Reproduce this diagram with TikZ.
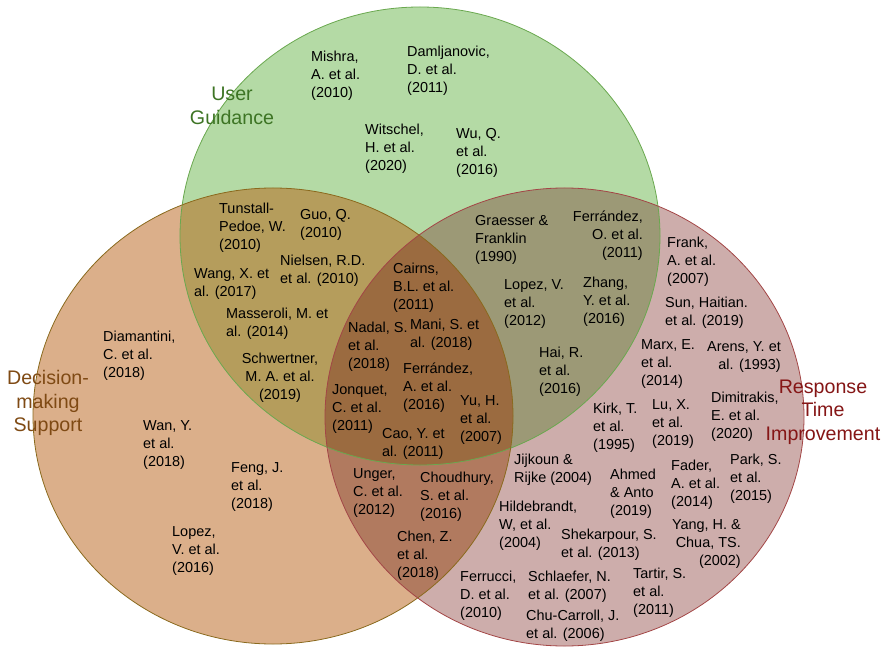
\documentclass[tikz,border=0pt]{standalone}
\usepackage{fontspec}
\setmainfont{Liberation Sans}

\definecolor{ugfill}{HTML}{B4DAA5}
\definecolor{dmfill}{HTML}{DBAF8A}
\definecolor{rtfill}{HTML}{CDADAB}
\definecolor{ugdmfill}{HTML}{B59D5C}
\definecolor{ugrtfill}{HTML}{9C9976}
\definecolor{dmrtfill}{HTML}{B17A5F}
\definecolor{allfill}{HTML}{9B6B40}
\definecolor{ugline}{HTML}{6AA84F}
\definecolor{dmline}{HTML}{8A6A1E}
\definecolor{rtline}{HTML}{A34646}
\definecolor{ugtext}{HTML}{3D7424}
\definecolor{dmtext}{HTML}{7F4A14}
\definecolor{rttext}{HTML}{851616}

\newcommand{\ugpath}{(420,236) ellipse [x radius=240bp, y radius=229bp]}
\newcommand{\dmpath}{(273,416) ellipse [x radius=240bp, y radius=228bp]}
\newcommand{\rtpath}{(564.5,417) ellipse [x radius=239.5bp, y radius=229bp]}

\begin{document}
\begin{tikzpicture}[x=1bp,y=-1bp,
  ref/.style={align=left,anchor=west,inner sep=0pt,font=\fontsize{14.5}{18}\selectfont},
  refr/.style={ref,align=right,anchor=east},
  refc/.style={ref,align=center,anchor=center},
  settitle/.style={align=center,inner sep=0pt,font=\fontsize{19.7}{23.5}\selectfont}]

  \useasboundingbox (0,0) rectangle (887,647);

  % the three sets
  \fill [ugfill] \ugpath;
  \fill [dmfill] \dmpath;
  \fill [rtfill] \rtpath;
  \begin{scope}
    \clip \ugpath;
    \fill [ugdmfill] \dmpath;
    \fill [ugrtfill] \rtpath;
  \end{scope}
  \begin{scope}
    \clip \dmpath;
    \fill [dmrtfill] \rtpath;
    \clip \ugpath;
    \fill [allfill] \rtpath;
  \end{scope}
  \draw [ugline, line width=0.8bp] \ugpath;
  \draw [dmline, line width=0.8bp] \dmpath;
  \draw [rtline, line width=0.8bp] \rtpath;

  \node (ugtitle) at (232,106) [settitle, text=ugtext] {User\\Guidance};
  \node (dmtitle) at (48,403) [settitle, text=dmtext] {Decision-\\making\\Support};
  \node (rttitle) at (823,412) [settitle, text=rttext] {Response\\Time\\Improvement};

  % user guidance only
  \node (mishra) at (311,76) [ref] {Mishra,\\A. et al.\\(2010)};
  \node (damljanovic) at (407,71) [ref] {Damljanovic,\\D. et al.\\(2011)};
  \node (witschel) at (365,149) [ref] {Witschel,\\H. et al.\\(2020)};
  \node (wuq) at (456,153) [ref] {Wu, Q.\\et al.\\(2016)};

  % user guidance and decision-making
  \node (tunstall) at (219,228) [ref] {Tunstall-\\Pedoe, W.\\(2010)};
  \node (guo) at (300,225) [ref] {Guo, Q.\\(2010)};
  \node (nielsen) at (280,271) [ref] {Nielsen, R.D.\\et al. (2010)};
  \node (wangx) at (194,284) [ref] {Wang, X. et\\al. (2017)};
  \node (masseroli) at (226,324) [ref] {Masseroli, M. et\\al. (2014)};
  \node (schwertner) at (280,378) [refc] {Schwertner,\\M. A. et al.\\(2019)};

  % all three
  \node (cairns) at (393,288) [ref] {Cairns,\\B.L. et al.\\(2011)};
  \node (nadal) at (348,347) [ref] {Nadal, S.\\et al.\\(2018)};
  \node (mani) at (410,335) [ref] {Mani, S. et\\al. (2018)};
  \node (ferrandeza) at (403,388) [ref] {Ferrández,\\A. et al.\\(2016)};
  \node (jonquet) at (332,409) [ref] {Jonquet,\\C. et al.\\(2011)};
  \node (yuh) at (460,420) [ref] {Yu, H.\\et al.\\(2007)};
  \node (caoy) at (382,444) [ref] {Cao, Y. et\\al. (2011)};

  % user guidance and response time
  \node (graesser) at (475,240) [ref] {Graesser \&\\Franklin\\(1990)};
  \node (ferrandezo) at (643,236) [refr] {Ferrández,\\O. et al.\\(2011)};
  \node (lopezv) at (504,304) [ref] {Lopez, V.\\et al.\\(2012)};
  \node (zhang) at (583,302) [ref] {Zhang,\\Y. et al.\\(2016)};
  \node (hai) at (539,372) [ref] {Hai, R.\\et al.\\(2016)};

  % decision-making only
  \node (diamantini) at (103,356) [ref] {Diamantini,\\C. et al.\\(2018)};
  \node (wan) at (143,445) [ref] {Wan, Y.\\et al.\\(2018)};
  \node (feng) at (231,487) [ref] {Feng, J.\\et al.\\(2018)};
  \node (lopezvb) at (172,551) [ref] {Lopez,\\V. et al.\\(2016)};

  % decision-making and response time
  \node (unger) at (353,493) [ref] {Unger,\\C. et al.\\(2012)};
  \node (choudhury) at (420,497) [ref] {Choudhury,\\S. et al.\\(2016)};
  \node (chen) at (397,556) [ref] {Chen, Z.\\et al.\\(2018)};

  % response time only
  \node (frank) at (667,262) [ref] {Frank,\\A. et al.\\(2007)};
  \node (sun) at (665,313) [ref] {Sun, Haitian.\\et al. (2019)};
  \node (marx) at (641,364) [ref] {Marx, E.\\et al.\\(2014)};
  \node (arens) at (781,357) [refr] {Arens, Y. et\\al. (1993)};
  \node (kirk) at (593,428) [ref] {Kirk, T.\\et al.\\(1995)};
  \node (lux) at (652,424) [ref] {Lu, X.\\et al.\\(2019)};
  \node (dimitrakis) at (711,417) [ref] {Dimitrakis,\\E. et al.\\(2020)};
  \node (jijkoun) at (514,470) [ref] {Jijkoun \&\\Rijke (2004)};
  \node (ahmed) at (610,494) [ref] {Ahmed\\\& Anto\\(2019)};
  \node (fader) at (671,485) [ref] {Fader,\\A. et al.\\(2014)};
  \node (park) at (730,479) [ref] {Park, S.\\et al.\\(2015)};
  \node (hildebrandt) at (499,526) [ref] {Hildebrandt,\\W, et al.\\(2004)};
  \node (shekarpour) at (561,545) [ref] {Shekarpour, S.\\et al. (2013)};
  \node (yang) at (741,544) [refr] {Yang, H. \&\\Chua, TS.\\(2002)};
  \node (ferrucci) at (460,596) [ref] {Ferrucci,\\D. et al.\\(2010)};
  \node (schlaefer) at (528,587) [ref] {Schlaefer, N.\\et al. (2007)};
  \node (chucarroll) at (526,626) [ref] {Chu-Carroll, J.\\et al. (2006)};
  \node (tartir) at (633,593) [ref] {Tartir, S.\\et al.\\(2011)};
\end{tikzpicture}
\end{document}
